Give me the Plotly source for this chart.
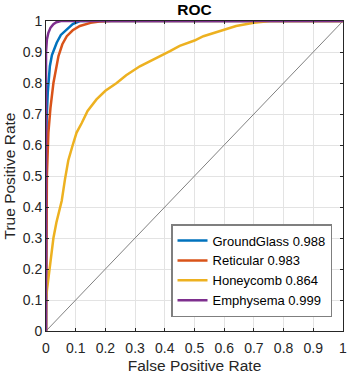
import plotly.graph_objects as go

# ROC curves
names = ["GroundGlass 0.988", "Reticular 0.983", "Honeycomb 0.864", "Emphysema 0.999"]
colors = ["#0072BD", "#D95319", "#EDB120", "#7E2F8E"]
tick_vals = [0, 0.1, 0.2, 0.3, 0.4, 0.5, 0.6, 0.7, 0.8, 0.9, 1]
tick_text = ["0", "0.1", "0.2", "0.3", "0.4", "0.5", "0.6", "0.7", "0.8", "0.9", "1"]

fpr_ground = [0, 0.0, 0.002, 0.006, 0.013, 0.02, 0.036, 0.05, 0.07, 0.09, 0.114, 1]
tpr_ground = [0, 0.5, 0.68, 0.77, 0.854, 0.89, 0.93, 0.955, 0.973, 0.99, 1.0, 1]

fpr_retic = [0, 0.003, 0.008, 0.015, 0.025, 0.035, 0.042, 0.055, 0.07, 0.09, 0.114, 0.15, 0.18, 0.22, 1]
tpr_retic = [0, 0.5, 0.64, 0.72, 0.80, 0.86, 0.887, 0.925, 0.951, 0.97, 0.984, 0.994, 0.998, 1.0, 1]

fpr_honey = [0, 0, 0.003, 0.008, 0.013, 0.02, 0.025, 0.035, 0.045, 0.053, 0.064, 0.075, 0.09,
             0.103, 0.12, 0.14, 0.17, 0.2, 0.238, 0.27, 0.316, 0.35, 0.4175, 0.45, 0.5, 0.53,
             0.58, 0.64, 0.7, 0.754, 1]
tpr_honey = [0, 0.1, 0.13, 0.17, 0.2, 0.26, 0.30, 0.35, 0.39, 0.42, 0.49, 0.55, 0.60,
             0.64, 0.67, 0.71, 0.747, 0.775, 0.80, 0.825, 0.854, 0.87, 0.903, 0.92, 0.937, 0.951,
             0.967, 0.984, 0.994, 1.0, 1]

fpr_emph = [0, 0, 0.003, 0.008, 0.015, 0.025, 0.035, 0.05, 1]
tpr_emph = [0, 0.9, 0.94, 0.962, 0.978, 0.99, 0.996, 1.0, 1]

diag = [0, 1]

fig = go.Figure()
fig.add_scatter(x=diag, y=diag, mode="lines", line=dict(color="#808080", width=1),
                showlegend=False, hoverinfo="skip")
curves = [(fpr_ground, tpr_ground), (fpr_retic, tpr_retic),
          (fpr_honey, tpr_honey), (fpr_emph, tpr_emph)]
for (fx, ty), nm, c in zip(curves, names, colors):
    fig.add_scatter(x=fx, y=ty, mode="lines", name=nm, cliponaxis=False,
                    line=dict(color=c, width=2.5))

ax = dict(range=[0, 1], tickmode="array", tickvals=tick_vals, ticktext=tick_text,
          showgrid=True, gridcolor="#e3e3e3", gridwidth=1,
          zeroline=False, showline=True, linecolor="#262626", linewidth=1, mirror="ticks",
          ticks="inside", ticklen=3, tickcolor="#262626", automargin=False,
          ticklabeloverflow="allow", tickfont=dict(size=14, color="#262626"))
fig.update_xaxes(**ax, ticklabelstandoff=4,
                 title=dict(text="False Positive Rate", font=dict(size=15.5, color="#262626"),
                            standoff=10))
fig.update_yaxes(**ax, title=dict(text="True Positive Rate", font=dict(size=15.5, color="#262626"),
                                  standoff=3))

fig.update_layout(
    width=347, height=374,
    margin=dict(l=46, r=4, t=21, b=43),
    paper_bgcolor="white", plot_bgcolor="white",
    font=dict(family="Liberation Sans, Arial, sans-serif", color="#262626"),
    title=dict(text="<b>ROC</b>", xref="paper", x=0.5, xanchor="center",
               yref="container", y=0.99, yanchor="top",
               font=dict(size=15.5, color="black")),
    legend=dict(x=0.963, y=0.045, xanchor="right", yanchor="bottom",
                bgcolor="white", bordercolor="#7f7f7f", borderwidth=1.5,
                font=dict(size=13, color="black"), tracegroupgap=0, itemwidth=30),
)

fig.write_html("out.html", config={"displayModeBar": False},
               post_script="document.body.style.margin='0px';")
